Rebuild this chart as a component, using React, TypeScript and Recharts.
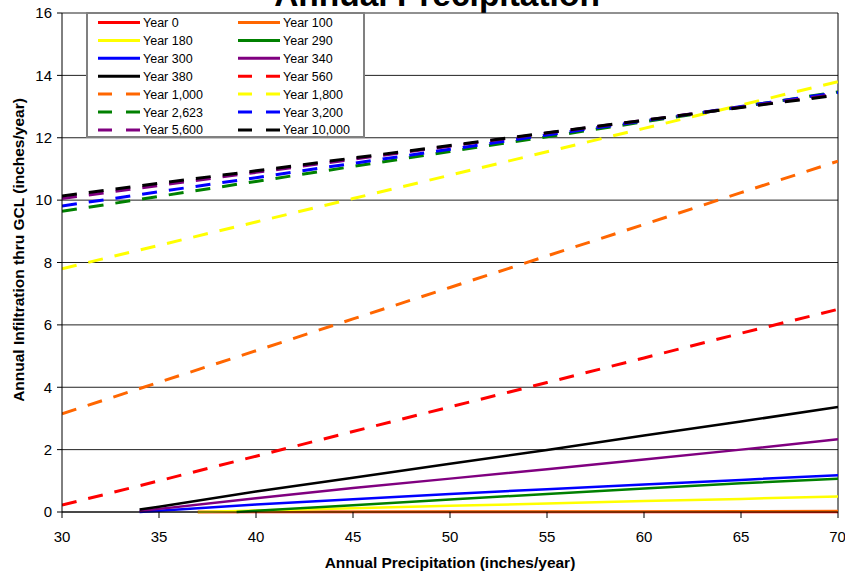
import React from 'react';
import { LineChart, Line, XAxis, YAxis, CartesianGrid, ReferenceLine, Legend, Label } from 'recharts';

const precipitation = [30, 34, 35, 37, 39, 40, 45, 50, 55, 60, 65, 70];
const xTicks = [30, 35, 40, 45, 50, 55, 60, 65, 70];
const yTicks = [0, 2, 4, 6, 8, 10, 12, 14, 16];

const year0 = [null, null, null, 0, null, 0, 0, 0, 0, 0, 0, 0];
const year100 = [null, null, null, 0, null, 0.005, 0.01, 0.015, 0.02, 0.02, 0.025, 0.03];
const year180 = [null, null, null, 0, null, 0.05, 0.12, 0.2, 0.27, 0.35, 0.42, 0.5];
const year290 = [null, null, null, null, 0, 0.04, 0.22, 0.4, 0.58, 0.75, 0.92, 1.07];
const year300 = [null, 0, 0.04, null, null, 0.24, 0.41, 0.58, 0.73, 0.88, 1.03, 1.18];
const year340 = [null, 0.03, 0.1, null, null, 0.44, 0.77, 1.07, 1.37, 1.68, 2.0, 2.33];
const year380 = [null, 0.08, 0.17, null, null, 0.66, 1.1, 1.55, 1.99, 2.45, 2.9, 3.37];
const year560 = [0.22, null, 1.0, null, null, 1.79, 2.58, 3.37, 4.15, 4.94, 5.73, 6.5];
const year1000 = [3.15, null, 4.16, null, null, 5.17, 6.19, 7.2, 8.21, 9.22, 10.24, 11.25];
const year1800 = [7.8, null, 8.55, null, null, 9.3, 10.05, 10.8, 11.55, 12.3, 13.05, 13.8];
const year2623 = [9.64, null, 10.12, null, null, 10.6, 11.08, 11.56, 12.03, 12.51, 12.99, 13.47];
const year3200 = [9.81, null, 10.27, null, null, 10.72, 11.18, 11.63, 12.09, 12.54, 13.0, 13.45];
const year5600 = [10.05, null, 10.47, null, null, 10.89, 11.31, 11.73, 12.15, 12.56, 12.98, 13.4];
const year10000 = [10.13, null, 10.54, null, null, 10.94, 11.35, 11.75, 12.16, 12.56, 12.97, 13.37];

const series = [
  { key: 'y0', name: 'Year 0', color: '#FF0000', dashed: false, values: year0 },
  { key: 'y100', name: 'Year 100', color: '#FF6600', dashed: false, values: year100 },
  { key: 'y180', name: 'Year 180', color: '#FFFF00', dashed: false, values: year180 },
  { key: 'y290', name: 'Year 290', color: '#008000', dashed: false, values: year290 },
  { key: 'y300', name: 'Year 300', color: '#0000FF', dashed: false, values: year300 },
  { key: 'y340', name: 'Year 340', color: '#800080', dashed: false, values: year340 },
  { key: 'y380', name: 'Year 380', color: '#000000', dashed: false, values: year380 },
  { key: 'y560', name: 'Year 560', color: '#FF0000', dashed: true, values: year560 },
  { key: 'y1000', name: 'Year 1,000', color: '#FF6600', dashed: true, values: year1000 },
  { key: 'y1800', name: 'Year 1,800', color: '#FFFF00', dashed: true, values: year1800 },
  { key: 'y2623', name: 'Year 2,623', color: '#008000', dashed: true, values: year2623 },
  { key: 'y3200', name: 'Year 3,200', color: '#0000FF', dashed: true, values: year3200 },
  { key: 'y5600', name: 'Year 5,600', color: '#800080', dashed: true, values: year5600 },
  { key: 'y10000', name: 'Year 10,000', color: '#000000', dashed: true, values: year10000 },
];

const data = precipitation.map((p, i) => {
  const row: Record<string, number | null> = { p };
  series.forEach((s) => {
    row[s.key] = s.values[i];
  });
  return row;
});

const FONT = 'Liberation Sans, Arial, sans-serif';

const LegendBox = () => {
  const rowH = 17.9;
  return (
    <svg width={280} height={127} style={{ display: 'block' }}>
      <rect x={1} y={1} width={277} height={124} fill="#fff" stroke="#808080" strokeWidth={2} />
      {series.map((s, i) => {
        const col = i % 2;
        const row = Math.floor(i / 2);
        const x0 = 12 + col * 140;
        const cy = 10.5 + row * rowH;
        return (
          <g key={s.key}>
            <line
              x1={x0}
              x2={x0 + 42}
              y1={cy}
              y2={cy}
              stroke={s.color}
              strokeWidth={3}
              strokeDasharray={s.dashed ? '14 14' : undefined}
            />
            <text x={x0 + 45} y={cy + 4.5} fontSize={12.5} fontFamily={FONT} fill="#000">
              {s.name}
            </text>
          </g>
        );
      })}
    </svg>
  );
};

export default function App() {
  return (
    <div style={{ position: 'absolute', left: 0, top: 0, width: 845, height: 571, background: '#fff', overflow: 'hidden' }}>
      <svg width={845} height={571} style={{ position: 'absolute', left: 0, top: 0 }}>
        <text x={437} y={6} textAnchor="middle" fontSize={33.5} fontWeight="bold" fontFamily={FONT} fill="#000">
          Annual Precipitation
        </text>
      </svg>
      <div style={{ position: 'absolute', left: 0, top: 0 }}>
        <LineChart width={845} height={571} data={data} margin={{ top: 13, right: 7, left: 0, bottom: 0 }}>
          <CartesianGrid horizontal={true} vertical={false} stroke="#222" strokeWidth={1} />
          <XAxis
            dataKey="p"
            type="number"
            domain={[30, 70]}
            ticks={xTicks}
            height={59}
            tickSize={6}
            tickMargin={13}
            stroke="#000"
            tick={{ fill: '#000', fontSize: 15, fontFamily: FONT }}
            allowDataOverflow
          >
            <Label
              value="Annual Precipitation (inches/year)"
              position="insideBottom"
              offset={3}
              style={{ fontWeight: 'bold', fontSize: 15.5, fill: '#000', fontFamily: FONT }}
            />
          </XAxis>
          <YAxis
            type="number"
            domain={[0, 16]}
            ticks={yTicks}
            width={62}
            tickSize={5}
            tickMargin={5}
            stroke="#000"
            tick={{ fill: '#000', fontSize: 15, fontFamily: FONT }}
          >
            <Label
              content={() => {
                const cx = 24;
                const cy = 250;
                return (
                  <text
                    x={cx}
                    y={cy}
                    transform={`rotate(-90, ${cx}, ${cy})`}
                    textAnchor="middle"
                    fontSize={15.5}
                    fontWeight="bold"
                    fontFamily={FONT}
                    fill="#000"
                  >
                    Annual Infiltration thru GCL (inches/year)
                  </text>
                );
              }}
            />
          </YAxis>
          <ReferenceLine x={70} stroke="#000" strokeWidth={1} />
          <Legend
            layout="vertical"
            align="center"
            verticalAlign="middle"
            wrapperStyle={{ position: 'absolute', left: 86, top: 12, width: 280, height: 127 }}
            content={() => <LegendBox />}
          />
          {series.map((s) => (
            <Line
              key={s.key}
              dataKey={s.key}
              name={s.name}
              type="linear"
              stroke={s.color}
              strokeWidth={s.dashed ? 3 : 2.5}
              strokeDasharray={s.dashed ? '15 12' : undefined}
              dot={false}
              activeDot={false}
              connectNulls
              isAnimationActive={false}
            />
          ))}
        </LineChart>
      </div>
    </div>
  );
}
